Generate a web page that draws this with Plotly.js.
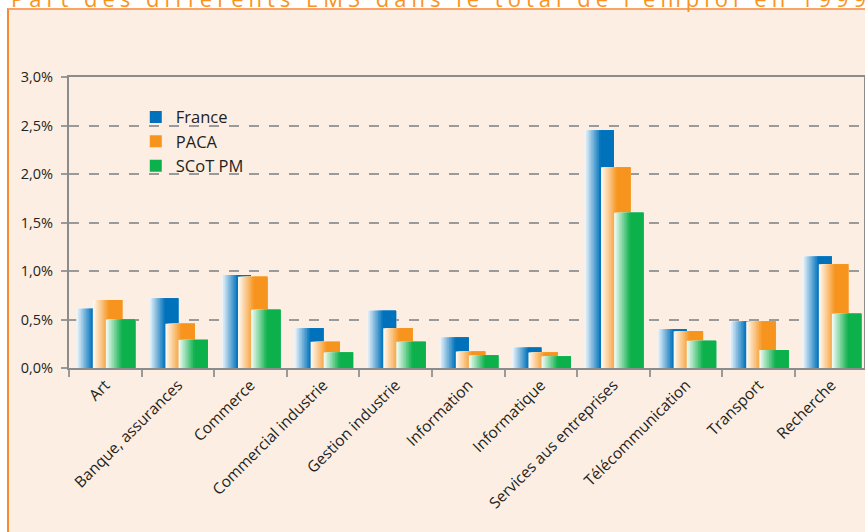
<!DOCTYPE html>
<html><head><meta charset="utf-8">
<script src="https://cdn.plot.ly/plotly-3.0.1.min.js"></script>
<style>
html,body{margin:0;padding:0;background:#fff;width:865px;height:532px;overflow:hidden;}
#frame{position:absolute;left:7px;top:8px;width:900px;height:600px;background:#FDEEE3;border-left:2px solid #F58A2E;border-top:2px solid #F9A466;}
#title{position:absolute;left:11px;top:-13px;font-family:'Open Sans';font-size:22px;letter-spacing:5px;color:#F7941D;white-space:nowrap;line-height:1;}
#chart{position:absolute;left:0;top:0;width:865px;height:532px;}
</style></head>
<body>
<div id="frame"></div>
<div id="title">Part des différents EMS dans le total de l’emploi en 1999</div>
<div id="chart"></div>
<script>
// ---- data (percent of total employment) ----
const categories = ['Art', 'Banque, assurances', 'Commerce', 'Commercial industrie', 'Gestion industrie',
  'Information', 'Informatique', 'Services aus entreprises', 'Télécommunication', 'Transport', 'Recherche'];
const france = [0.61, 0.72, 0.96, 0.41, 0.59, 0.315, 0.21, 2.45, 0.40, 0.48, 1.15];
const paca   = [0.70, 0.457, 0.94, 0.27, 0.41, 0.17, 0.16, 2.07, 0.38, 0.48, 1.07];
const scot   = [0.50, 0.29, 0.60, 0.16, 0.27, 0.13, 0.12, 1.60, 0.28, 0.185, 0.56];
const seriesNames = ['France', 'PACA', 'SCoT PM'];
const yTickVals = [0, 0.5, 1, 1.5, 2, 2.5, 3];
const yTickText = ['0,0%', '0,5%', '1,0%', '1,5%', '2,0%', '2,5%', '3,0%'];

// ---- styling ----
const seriesColors = [[0, 114, 188], [247, 148, 29], [13, 177, 75]];
const seriesOffsets = [-0.40, -0.172, 0.008];
const barWidth = 0.405;
const N = 10;           // gradient slices
const gradFrac = 0.55;  // fraction of bar covered by gradient

function mix(c, t) {
  const r = Math.round(255 + (c[0] - 255) * t);
  const g = Math.round(255 + (c[1] - 255) * t);
  const b = Math.round(255 + (c[2] - 255) * t);
  return 'rgb(' + r + ',' + g + ',' + b + ')';
}

const seriesValues = [france, paca, scot];
const traces = [];
seriesValues.forEach((vals, s) => {
  const g = barWidth * gradFrac;
  for (let i = 0; i <= N; i++) {
    const start = seriesOffsets[s] + i * g / N;
    const t = i < N ? 0.03 + 0.97 * (i + 0.5) / N : 1;
    traces.push({
      type: 'bar',
      x: categories,
      y: vals,
      name: seriesNames[s],
      legendgroup: seriesNames[s],
      showlegend: i === N,
      offset: start,
      width: barWidth - i * g / N,
      marker: {color: mix(seriesColors[s], t), line: {width: 0}},
      hoverinfo: 'skip'
    });
  }
});

const axisGrey = '#8c8c8c';
const layout = {
  width: 865, height: 532,
  margin: {l: 69, r: 1, t: 77, b: 164, pad: 0},
  paper_bgcolor: 'rgba(0,0,0,0)',
  plot_bgcolor: 'rgba(0,0,0,0)',
  barmode: 'overlay',
  separators: ', ',
  font: {family: 'Open Sans', color: '#231f20'},
  showlegend: true,
  legend: {x: 0.084, xanchor: 'left', y: 0.922, yanchor: 'top', bgcolor: 'rgba(0,0,0,0)',
    font: {size: 16.5, color: '#231f20'}, traceorder: 'normal'},
  xaxis: {type: 'category', range: [-0.5, 10.45], tickangle: -45, tickfont: {size: 15.5, color: '#231f20'},
    ticks: 'outside', tickson: 'boundaries', ticklen: 7, tickwidth: 2, tickcolor: '#9a9a9a',
    showline: true, linecolor: axisGrey, linewidth: 2, mirror: true, showgrid: false, fixedrange: true},
  yaxis: {range: [0, 3], tickmode: 'array', tickvals: yTickVals, ticktext: yTickText,
    tickfont: {size: 14.5, color: '#231f20'}, ticks: 'outside', ticklen: 6, tickwidth: 2, tickcolor: '#9a9a9a',
    showline: true, linecolor: axisGrey, linewidth: 2, mirror: true,
    showgrid: true, gridcolor: '#9a9a9a', gridwidth: 2, griddash: '10px,10px', zeroline: false,
    ticklabelstandoff: 5, fixedrange: true}
};

Plotly.newPlot('chart', traces, layout, {displayModeBar: false, staticPlot: true});
</script>
</body></html>
